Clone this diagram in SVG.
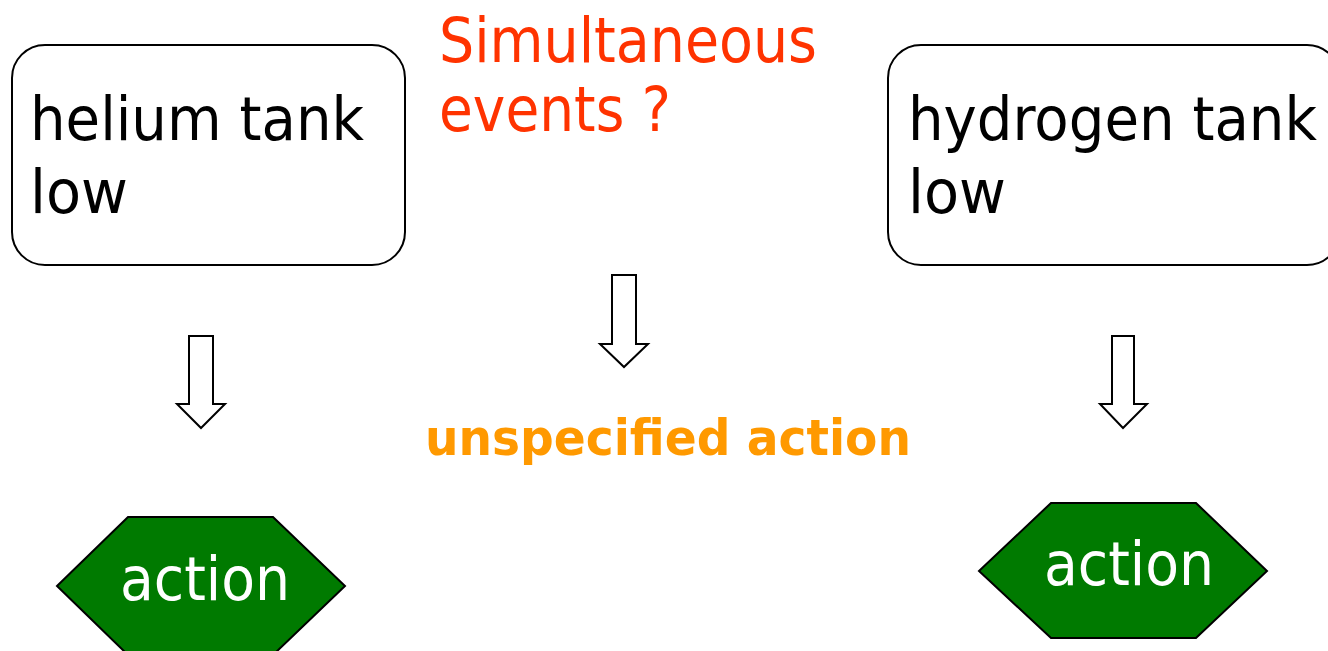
<svg xmlns="http://www.w3.org/2000/svg" width="1328" height="651" viewBox="0 0 1328 651">
  <style>
    .state { fill: #ffffff; stroke: #000000; stroke-width: 2; }
    .act { fill: #007A00; stroke: #000000; stroke-width: 2; }
    .flow { fill: #ffffff; stroke: #000000; stroke-width: 2; stroke-linejoin: miter; }
    .lbl { font-family: "DejaVu Sans", Verdana, sans-serif; font-size: 60px; fill: #000000; }
    .actlbl { font-family: "DejaVu Sans", Verdana, sans-serif; font-size: 60px; fill: #ffffff; }
    .note { font-family: "DejaVu Sans", Verdana, sans-serif; font-size: 62px; fill: #FF3300; }
    .result { font-family: "DejaVu Sans", Verdana, sans-serif; font-size: 50px; font-weight: bold; fill: #FF9900; }
  </style>
  <rect width="1328" height="651" fill="#ffffff"/>

  <g id="helium-tank-low">
    <rect class="state" x="12" y="45" width="393" height="220" rx="33" ry="33"/>
    <text class="lbl" x="30" y="140" textLength="334" lengthAdjust="spacingAndGlyphs">helium tank</text>
    <text class="lbl" x="30" y="213" textLength="98" lengthAdjust="spacingAndGlyphs">low</text>
  </g>

  <g id="hydrogen-tank-low">
    <rect class="state" x="888" y="45" width="452" height="220" rx="33" ry="33"/>
    <text class="lbl" x="908" y="140" textLength="409" lengthAdjust="spacingAndGlyphs">hydrogen tank</text>
    <text class="lbl" x="908" y="213" textLength="98" lengthAdjust="spacingAndGlyphs">low</text>
  </g>

  <g id="simultaneous-events">
    <text class="note" x="439" y="62" textLength="378" lengthAdjust="spacingAndGlyphs">Simultaneous</text>
    <text class="note" x="439" y="131" textLength="232" lengthAdjust="spacingAndGlyphs">events ?</text>
  </g>

  <g id="unspecified-action">
    <text class="result" x="425" y="455" textLength="486" lengthAdjust="spacingAndGlyphs">unspecified action</text>
  </g>

  <g id="action-left">
    <polygon class="act" points="57,586 128,517 273,517 345,586 273,655 128,655"/>
    <text class="actlbl" x="120" y="600" textLength="170" lengthAdjust="spacingAndGlyphs">action</text>
  </g>

  <g id="action-right">
    <polygon class="act" points="979,571 1051,503 1196,503 1267,571 1196,638 1051,638"/>
    <text class="actlbl" x="1044" y="585" textLength="170" lengthAdjust="spacingAndGlyphs">action</text>
  </g>

  <g id="connectors">
    <polygon class="flow" points="189,336 213,336 213,404 225,404 201,428 177,404 189,404"/>
    <polygon class="flow" points="612,275 636,275 636,344 648,344 624,367 600,344 612,344"/>
    <polygon class="flow" points="1112,336 1134,336 1134,404 1147,404 1123,428 1100,404 1112,404"/>
  </g>
</svg>
